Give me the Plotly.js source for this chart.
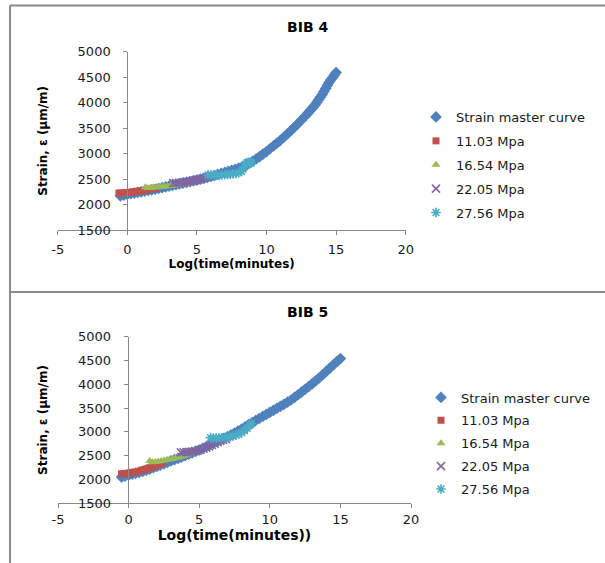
<!DOCTYPE html>
<html><head><meta charset="utf-8">
<script src="https://cdn.plot.ly/plotly-3.0.1.min.js"></script>
<style>html,body{margin:0;padding:0;background:#fff}#chart{width:605px;height:563px}</style>
</head><body><div id="chart"></div>
<script>
// ---- names / ticks ----
const seriesNames = ["Strain master curve", "11.03 Mpa", "16.54 Mpa", "22.05 Mpa", "27.56 Mpa"];
const chartTitles = ["BIB 4", "BIB 5"];
const xTitles = ["Log(time(minutes)", "Log(time(minutes))"];
const yTitle = "Strain, \u03b5 (\u03bcm/m)";
const xTickVals = [-5, 0, 5, 10, 15, 20];
const xTickText = ["-5", "0", "5", "10", "15", "20"];
const yTickVals = [1500, 2000, 2500, 3000, 3500, 4000, 4500, 5000];

// ---- BIB 4 ----
const bib4MasterX = [-0.5,-0.25,0,0.25,0.5,0.75,1,1.25,1.5,1.75,2,2.25,2.5,2.75,3,3.25,3.5,3.75,4,4.25,4.5,4.75,5,5.25,5.5,5.75,6,6.25,6.5,6.75,7,7.25,7.5,7.75,8,8.25,8.5,8.75,9,9.25,9.5,9.75,10,10.25,10.5,10.75,11,11.25,11.5,11.75,12,12.25,12.5,12.75,13,13.125,13.25,13.375,13.5,13.625,13.75,13.875,14,14.125,14.25,14.375,14.5,14.625,14.75,14.875,15];
const bib4MasterY = [2170,2185,2200,2212,2225,2237,2250,2262,2275,2287,2300,2315,2330,2345,2360,2375,2390,2405,2420,2435,2450,2465,2480,2497,2515,2532,2550,2570,2590,2610,2630,2650,2670,2693,2715,2740,2765,2805,2850,2895,2940,2990,3040,3095,3150,3205,3260,3322,3385,3450,3515,3585,3655,3728,3800,3840,3880,3920,3960,4010,4060,4110,4160,4220,4280,4340,4400,4448,4495,4542,4590];
const bib4S1X = [-0.6,-0.4,-0.2,0,0.2,0.4,0.6,0.8,1.0,1.2,1.4,1.6,1.8,2.0];
const bib4S1Y = [2225,2227,2230,2234,2240,2247,2255,2262,2270,2280,2290,2300,2310,2320];
const bib4S2X = [1.3,1.5,1.7,1.9,2.1,2.3,2.5,2.7,2.9,3.1,3.3,3.5,3.7,3.9,4.1,4.3];
const bib4S2Y = [2340,2325,2330,2335,2340,2344,2348,2352,2358,2364,2370,2377,2385,2395,2405,2415];
const bib4S3X = [3.3,3.5,3.7,3.9,4.1,4.3,4.5,4.7,4.9,5.1,5.3,5.5,5.7,5.9,6.1];
const bib4S3Y = [2420,2422,2425,2432,2440,2450,2460,2470,2480,2492,2505,2520,2535,2552,2565];
const bib4S4X = [5.8,6.0,6.2,6.4,6.6,6.8,7.0,7.2,7.4,7.6,7.8,8.0,8.2,8.3,8.4,8.5,8.6,8.7,8.8,8.9];
const bib4S4Y = [2580,2578,2575,2577,2580,2582,2585,2590,2595,2602,2610,2625,2650,2690,2740,2790,2820,2830,2825,2815];

// ---- BIB 5 ----
const bib5MasterX = [-0.5,-0.25,0,0.25,0.5,0.75,1,1.25,1.5,1.75,2,2.25,2.5,2.75,3,3.25,3.5,3.75,4,4.25,4.5,4.75,5,5.25,5.5,5.75,6,6.25,6.5,6.75,7,7.25,7.5,7.75,8,8.25,8.5,8.75,9,9.25,9.5,9.75,10,10.25,10.5,10.75,11,11.25,11.5,11.75,12,12.25,12.5,12.75,13,13.25,13.5,13.75,14,14.25,14.5,14.75,15];
const bib5MasterY = [2050,2070,2090,2110,2130,2150,2170,2195,2220,2247,2275,2302,2330,2360,2390,2417,2445,2472,2500,2530,2560,2590,2620,2655,2690,2725,2760,2795,2830,2865,2900,2937,2975,3017,3060,3107,3155,3197,3240,3282,3325,3367,3410,3452,3495,3537,3580,3625,3670,3725,3780,3837,3895,3952,4010,4072,4135,4202,4270,4340,4410,4475,4540];
const bib5S1X = [-0.5,-0.3,-0.1,0.1,0.3,0.5,0.7,0.9,1.1,1.3,1.5,1.7,1.9,2.1,2.3,2.4];
const bib5S1Y = [2120,2125,2132,2140,2150,2160,2175,2192,2208,2225,2245,2265,2290,2315,2340,2352];
const bib5S2X = [1.5,1.7,1.9,2.1,2.3,2.5,2.7,2.9,3.1,3.3,3.5,3.7,3.9,4.1,4.3,4.4];
const bib5S2Y = [2390,2365,2370,2378,2387,2397,2408,2420,2432,2445,2460,2477,2495,2515,2535,2548];
const bib5S3X = [3.7,3.9,4.1,4.3,4.5,4.7,4.9,5.1,5.3,5.5,5.7,5.9,6.1,6.3,6.5,6.7,6.9];
const bib5S3Y = [2570,2572,2575,2580,2588,2598,2610,2625,2645,2668,2695,2725,2755,2785,2810,2830,2845];
const bib5S4X = [5.8,6.0,6.2,6.4,6.6,6.8,7.0,7.2,7.4,7.6,7.8,8.0,8.2,8.4,8.6,8.7];
const bib5S4Y = [2880,2872,2870,2872,2876,2882,2890,2900,2915,2932,2955,2985,3025,3075,3140,3175];

// ---- styles ----
const colors = ["#4F81BD", "#C0504D", "#9BBB59", "#8064A2", "#4BACC6"];
const symbols = ["diamond", "square", "triangle-up", "x-thin-open", "asterisk-open"];
const sizes = [9, 7, 8, 8, 8];

const W = 605, H = 563;
const px = v => v / W;
const py = v => (H - v) / H;

function mk(i, x, y, xa, ya, leg) {
  const open = symbols[i].indexOf("open") >= 0;
  return {
    type: "scatter", mode: "markers", x: x, y: y, name: seriesNames[i],
    xaxis: xa, yaxis: ya, legend: leg, legendgroup: leg + "g" + i,
    marker: {
      symbol: symbols[i], size: sizes[i], color: colors[i],
      line: open ? {color: colors[i], width: 1.6} : {width: 0}
    },
    hoverinfo: "x+y+name"
  };
}

const data = [
  mk(0, bib4MasterX, bib4MasterY, "x", "y", "legend"),
  mk(1, bib4S1X, bib4S1Y, "x", "y", "legend"),
  mk(2, bib4S2X, bib4S2Y, "x", "y", "legend"),
  mk(3, bib4S3X, bib4S3Y, "x", "y", "legend"),
  mk(4, bib4S4X, bib4S4Y, "x", "y", "legend"),
  mk(0, bib5MasterX, bib5MasterY, "x2", "y2", "legend2"),
  mk(1, bib5S1X, bib5S1Y, "x2", "y2", "legend2"),
  mk(2, bib5S2X, bib5S2Y, "x2", "y2", "legend2"),
  mk(3, bib5S3X, bib5S3Y, "x2", "y2", "legend2"),
  mk(4, bib5S4X, bib5S4Y, "x2", "y2", "legend2")
];

const axisGrey = "#888888";
const tickFont = {family: "DejaVu Sans", size: 13, color: "#1a1a1a"};
function xAxis(domain, anchor, title, tsize, standoff, lblStandoff) {
  return {
    domain: domain, anchor: anchor, range: [-5, 20], tickvals: xTickVals, ticktext: xTickText,
    showgrid: false, zeroline: false, showline: true, linecolor: axisGrey, linewidth: 1,
    ticks: "outside", ticklen: 4, tickcolor: axisGrey, tickfont: tickFont, ticklabelstandoff: lblStandoff,
    title: {text: title, font: {family: "DejaVu Sans", size: tsize, weight: "bold", color: "#000"}, standoff: standoff}
  };
}
function yAxis(domain, pos) {
  return {
    domain: domain, anchor: "free", position: pos, range: [1500, 5000], tickvals: yTickVals,
    showgrid: false, zeroline: false, showline: true, linecolor: axisGrey, linewidth: 1,
    ticks: "outside", ticklen: 4, tickcolor: axisGrey, tickfont: tickFont, ticklabelstandoff: 10,
    title: {text: yTitle, font: {family: "DejaVu Sans", size: 12, weight: "bold", color: "#000"}, standoff: 26}
  };
}

const legFont = {family: "DejaVu Sans", size: 13, color: "#1a1a1a"};
const layout = {
  width: W, height: H, margin: {l: 0, r: 0, t: 0, b: 0},
  paper_bgcolor: "#fff", plot_bgcolor: "rgba(0,0,0,0)", showlegend: true,
  xaxis: xAxis([px(57.7), px(405.7)], "y", xTitles[0], 12, 4, 3),
  yaxis: yAxis([py(230), py(51.7)], px(127.3)),
  xaxis2: xAxis([px(58), px(411)], "y2", xTitles[1], 14, 0, 0),
  yaxis2: yAxis([py(503.3), py(336.7)], px(127.7)),
  legend: {x: px(416), xanchor: "left", y: py(102), yanchor: "top", font: legFont,
           tracegroupgap: 4, bgcolor: "rgba(0,0,0,0)", borderwidth: 0},
  legend2: {x: px(421), xanchor: "left", y: py(382.5), yanchor: "top", font: legFont,
            tracegroupgap: 3, bgcolor: "rgba(0,0,0,0)", borderwidth: 0},
  annotations: [
    {text: chartTitles[0], xref: "paper", yref: "paper", x: px(307.7), y: py(27), showarrow: false,
     xanchor: "center", yanchor: "middle", font: {family: "DejaVu Sans", size: 14, weight: "bold", color: "#000"}},
    {text: chartTitles[1], xref: "paper", yref: "paper", x: px(307.5), y: py(311.7), showarrow: false,
     xanchor: "center", yanchor: "middle", font: {family: "DejaVu Sans", size: 14, weight: "bold", color: "#000"}}
  ],
  shapes: [
    {type: "line", xref: "paper", yref: "paper", x0: px(10), x1: 1, y0: py(5.5), y1: py(5.5), line: {color: "#8a8a8a", width: 2}},
    {type: "line", xref: "paper", yref: "paper", x0: px(10), x1: px(10), y0: py(5.5), y1: 0, line: {color: "#8a8a8a", width: 2}},
    {type: "line", xref: "paper", yref: "paper", x0: px(10), x1: 1, y0: py(292), y1: py(292), line: {color: "#8a8a8a", width: 2}}
  ]
};

Plotly.newPlot("chart", data, layout, {displayModeBar: false, staticPlot: true});
</script>
</body></html>
